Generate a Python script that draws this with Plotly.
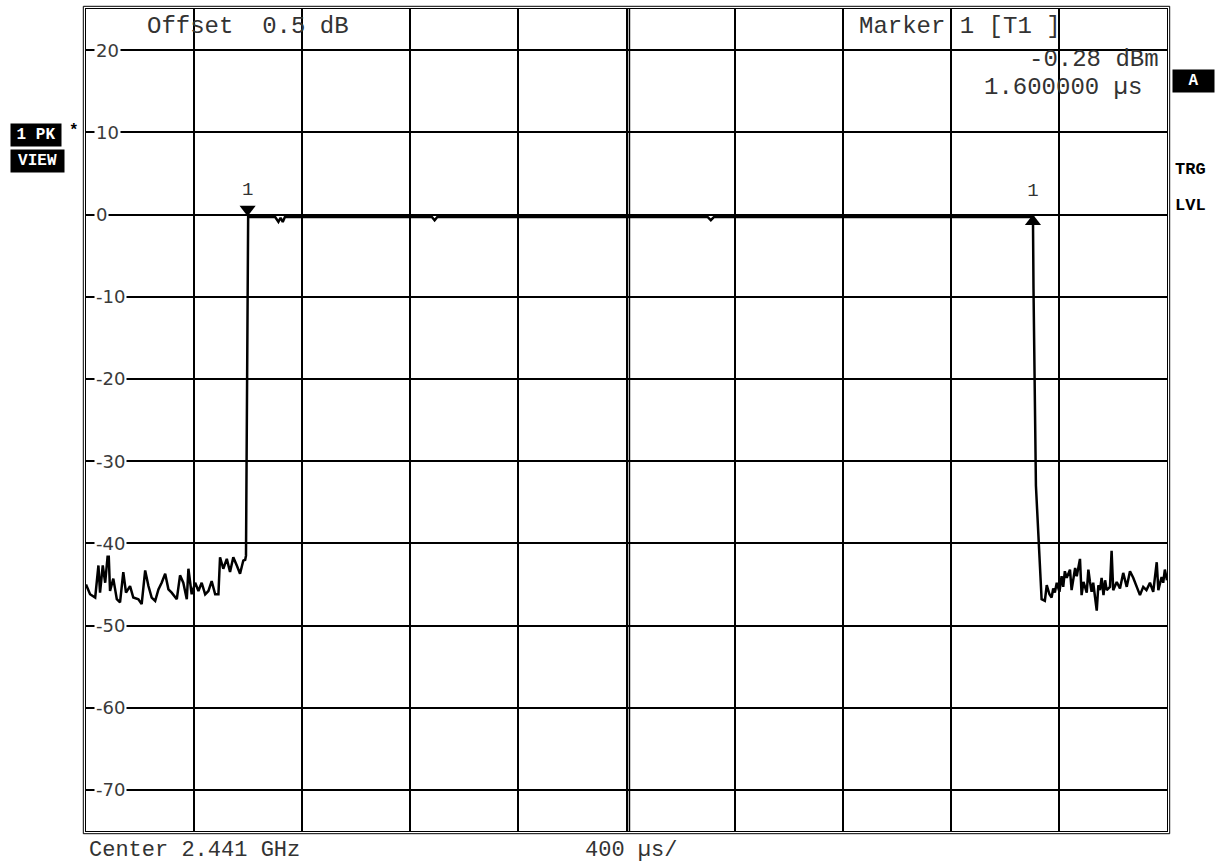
import plotly.graph_objects as go

# ---- data (time in µs, level in dBm) ----
noise_left_t = [0, 15, 34, 46, 52, 62, 71, 83, 89, 101, 114, 126, 138, 148, 163, 175, 194, 206, 219, 231,
                243, 256, 268, 280, 293, 305, 317, 336, 348, 360, 373, 379, 391, 404, 416, 428, 441, 453,
                465, 478, 490, 496, 508, 521, 533, 545, 558, 570, 582, 589]
noise_left_v = [-45.0, -46.2, -46.6, -42.7, -46.0, -42.7, -44.8, -40.5, -45.8, -44.3, -46.8, -47.2, -43.5,
                -46.0, -45.2, -46.6, -46.8, -47.4, -43.3, -45.2, -46.6, -47.0, -45.6, -44.8, -43.7, -45.6,
                -46.0, -46.8, -43.9, -44.8, -46.8, -43.1, -46.2, -44.8, -45.8, -44.8, -46.2, -45.8, -44.6,
                -46.2, -46.2, -41.7, -43.1, -41.9, -43.5, -41.7, -42.7, -43.7, -42.1, -42.0]

pulse_t = [592, 600, 700, 712, 720, 728, 736, 1280, 1290, 1300, 2300, 2312, 2324, 3504, 3506, 3515]
pulse_v = [-41.5, -0.3, -0.3, -0.9, -0.4, -0.9, -0.3, -0.3, -0.7, -0.3, -0.3, -0.7, -0.3, -0.3, -9.0, -33.0]

noise_right_t = [3536, 3548, 3555, 3565, 3573, 3579, 3585, 3592, 3602, 3610, 3616, 3622, 3629, 3641, 3647,
                 3660, 3666, 3678, 3684, 3691, 3703, 3709, 3715, 3721, 3727, 3734, 3740, 3746, 3752, 3758,
                 3765, 3771, 3777, 3789, 3795, 3801, 3814, 3826, 3838, 3851, 3863, 3875, 3888, 3900, 3912,
                 3924, 3937, 3949, 3962, 3968, 3980, 3986, 3992, 4000]
noise_right_v = [-46.8, -47.0, -45.1, -46.2, -46.6, -45.5, -46.0, -44.8, -45.9, -44.0, -45.3, -43.4, -44.2,
                 -43.2, -45.7, -43.0, -44.0, -41.9, -46.3, -44.7, -46.0, -43.2, -44.7, -45.9, -44.8, -46.8,
                 -48.2, -45.1, -45.7, -44.2, -46.3, -44.5, -45.7, -45.3, -40.9, -45.7, -44.7, -45.5, -43.6,
                 -45.3, -43.4, -44.2, -45.3, -46.3, -45.3, -45.7, -44.8, -45.9, -42.3, -45.7, -44.1, -44.8,
                 -43.2, -44.5]

marker_t = [598, 3504]
marker_v = [0.65, -0.85]
marker_symbols = ["triangle-down", "triangle-up"]
marker_label_v = [2.9, 2.8]

y_ticks = [20, 10, 0, -10, -20, -30, -40, -50, -60, -70]
x_range = [0, 4000]
y_range = [-75, 25]

# ---- geometry helpers (pixel -> paper) ----
L, R, T, B = 86, 1167, 9, 831
W, H = R - L, B - T


def px(x):
    return (x - L) / W


def py(y):
    return (B - y) / H


trace_t = noise_left_t + pulse_t + noise_right_t
trace_v = noise_left_v + pulse_v + noise_right_v

fig = go.Figure()
fig.add_trace(go.Scatter(x=trace_t, y=trace_v, mode="lines",
                         line=dict(color="black", width=2.5), hoverinfo="skip"))
fig.add_trace(go.Scatter(x=marker_t, y=marker_v, mode="markers",
                         marker=dict(symbol=marker_symbols, size=14, color="black"),
                         hoverinfo="skip"))
fig.add_trace(go.Scatter(x=marker_t, y=marker_label_v, mode="text", text=["1", "1"],
                         textfont=dict(family="Liberation Mono", size=19, color="#333"),
                         hoverinfo="skip"))

mono = "Liberation Mono, Courier New, monospace"
ann = []
# y tick labels inside the plot
for v in y_ticks:
    ann.append(dict(x=0, xref="paper", y=v, yref="y", text=str(v),
                    xanchor="left", yanchor="middle", xshift=8, showarrow=False,
                    bgcolor="white", borderpad=1,
                    font=dict(family="DejaVu Sans", size=18, color="#3a3a3a")))


def txt(x, y, s, anchor="left", size=24, color="#333", family=mono, **kw):
    ann.append(dict(x=px(x), y=py(y), xref="paper", yref="paper", text=s, showarrow=False,
                    xanchor=anchor, yanchor="middle", font=dict(family=family, size=size, color=color), **kw))


txt(145, 26, "Offset  0.5 dB")
txt(857, 26, "Marker 1 [T1 ]")
txt(1161, 59, "-0.28 dBm", anchor="right")
txt(1144, 87, "1.600000 µs", anchor="right")
txt(87, 850, "Center 2.441 GHz", size=22, height=22, valign="middle")
txt(583, 850, "400 µs/", size=22, height=22, valign="middle")

boldmono = "Liberation Mono"
# black boxes
ann.append(dict(x=px(10), y=py(134.5), xref="paper", yref="paper", text="<b>1 PK</b>", showarrow=False,
                xanchor="left", yanchor="middle", width=50, height=22, bgcolor="black", borderpad=0,
                align="center", font=dict(family=boldmono, size=16, color="white")))
ann.append(dict(x=px(10), y=py(161), xref="paper", yref="paper", text="<b>VIEW</b>", showarrow=False,
                xanchor="left", yanchor="middle", width=53, height=22, bgcolor="black", borderpad=0,
                align="center", font=dict(family=boldmono, size=16, color="white")))
ann.append(dict(x=px(1172), y=py(81), xref="paper", yref="paper", text="<b>A</b>", showarrow=False,
                xanchor="left", yanchor="middle", width=41, height=22, bgcolor="black", borderpad=0,
                align="center", font=dict(family=boldmono, size=16, color="white")))
txt(67, 131, "<b>*</b>", size=16, color="black", family=boldmono)
txt(1173, 169, "<b>TRG</b>", size=17, color="black", family=boldmono)
txt(1173, 205, "<b>LVL</b>", size=17, color="black", family=boldmono)

shapes = [
    # outer line of the double frame
    dict(type="rect", xref="paper", yref="paper", x0=px(83.3), x1=px(1169.7), y0=py(833.7), y1=py(6.3),
         line=dict(color="black", width=1)),
    # double centre line
    dict(type="line", xref="x", yref="paper", x0=2011, x1=2011, y0=0, y1=1,
         line=dict(color="black", width=1.5)),
]

axis_common = dict(showline=True, mirror=True, linecolor="black", linewidth=1,
                   showgrid=True, gridcolor="black", gridwidth=1.6, zeroline=False,
                   showticklabels=False, ticks="", fixedrange=True)

fig.update_layout(
    width=1222, height=863,
    margin=dict(l=L, r=1222 - R, t=T, b=863 - B),
    paper_bgcolor="white", plot_bgcolor="white",
    showlegend=False,
    xaxis=dict(range=x_range, dtick=400, tick0=0, **axis_common),
    yaxis=dict(range=y_range, dtick=10, tick0=-70, **axis_common),
    annotations=ann,
    shapes=shapes,
)

fig.write_html("out.html")
